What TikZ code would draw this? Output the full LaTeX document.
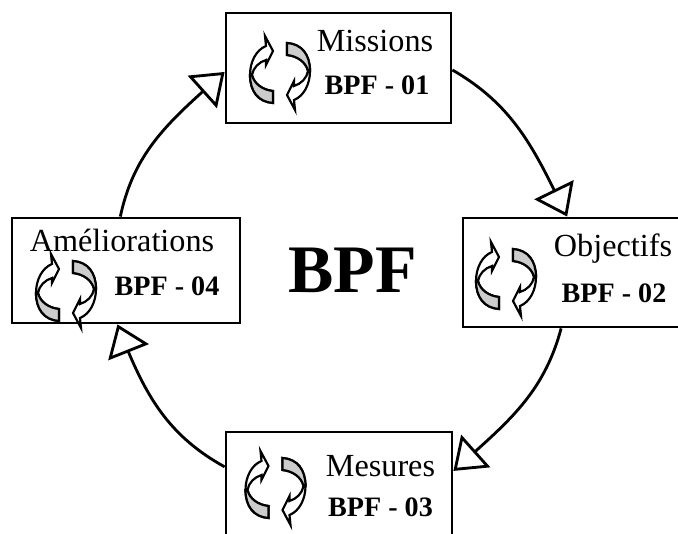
\documentclass[tikz,border=0pt]{standalone}
\usepackage{fontspec}
\setmainfont{Liberation Serif}
\usetikzlibrary{arrows.meta,bending}
\definecolor{icongray}{gray}{0.8}
\tikzset{
    stepbox/.style={draw,line width=0.085cm,inner sep=0pt,fill=white},
    flowline/.style={line width=0.085cm,-{Triangle[open,length=0.9cm,width=1.3cm,fill=white,flex']}},
    boxtitle/.style={anchor=base,font=\fontsize{27.5}{30}\selectfont,inner sep=0pt},
    boxcode/.style={anchor=base,font=\fontsize{24}{28}\selectfont\bfseries,inner sep=0pt},
    pics/halfarrow/.style={code={
        \draw[line width=0.065cm,fill=white] (-7,-18) .. controls (-17,-17) and (-26,-11) .. (-28,-2) .. controls (-27,5) and (-21,11) .. (-14,13) -- (-14,8) -- (-7,22) -- (-15,37) -- (-14,27) .. controls (-24,23) and (-30,11) .. (-30,-2) .. controls (-30,-18) and (-22,-29) .. (-7,-30) -- cycle;
        \draw[line width=0.065cm,fill=icongray] (-7,-18) .. controls (-17,-17) and (-26,-11) .. (-28,-2) -- (-30,-2) .. controls (-30,-18) and (-22,-29) .. (-7,-30) -- cycle;
    }},
    pics/cycleicon/.style={code={
        \pic {halfarrow};
        \pic[rotate=180] {halfarrow};
    }}
}
\begin{document}
\begin{tikzpicture}[x=0.03cm,y=0.03cm]
            \useasboundingbox (0,0) rectangle (678,533);
            \clip (0,0) rectangle (678,533);
            % the four boxes
            \node[stepbox,minimum width=6.75cm,minimum height=3.3cm] (missions) at (338.5,465) {};
            \node[stepbox,minimum width=6.6cm,minimum height=3.27cm] (objectifs) at (573,260.5) {};
            \node[stepbox,minimum width=6.78cm,minimum height=3.3cm] (mesures) at (339,46) {};
            \node[stepbox,minimum width=6.84cm,minimum height=3.15cm] (ameliorations) at (126,262.5) {};
            % the cycle
            \draw[flowline] (missions.-1) to[out=-30,in=116] (objectifs.96);
            \draw[flowline] (objectifs.258) to[out=-105,in=42] (mesures.8);
            \draw[flowline] (mesures.170) to[out=151,in=291] (ameliorations.261);
            \draw[flowline] (ameliorations.96) to[out=78,in=222] (missions.182);
            % icons
            \pic at (280,460) {cycleicon};
            \pic[scale=0.95] at (506,254) {cycleicon};
            \pic[scale=0.95] at (275.5,45) {cycleicon};
            \pic[scale=0.95] at (66,242) {cycleicon};
            % labels
            \node[boxtitle] (missionstitle) at (375,481) {Missions};
            \node[boxcode] (missionscode) at (377,438) {BPF - 01};
            \node[boxtitle] (objectifstitle) at (613,276) {Objectifs};
            \node[boxcode] (objectifscode) at (614,230) {BPF - 02};
            \node[boxtitle] (mesurestitle) at (380.5,57) {Mesures};
            \node[boxcode] (mesurescode) at (380.5,17) {BPF - 03};
            \node[boxtitle] (ameliorationstitle) at (122,281) {Améliorations};
            \node[boxcode] (ameliorationscode) at (167,237) {BPF - 04};
            \node[anchor=base,font=\fontsize{58}{60}\selectfont\bfseries,inner sep=0pt] (cycletitle) at (352.5,240) {BPF};
\end{tikzpicture}
\end{document}
